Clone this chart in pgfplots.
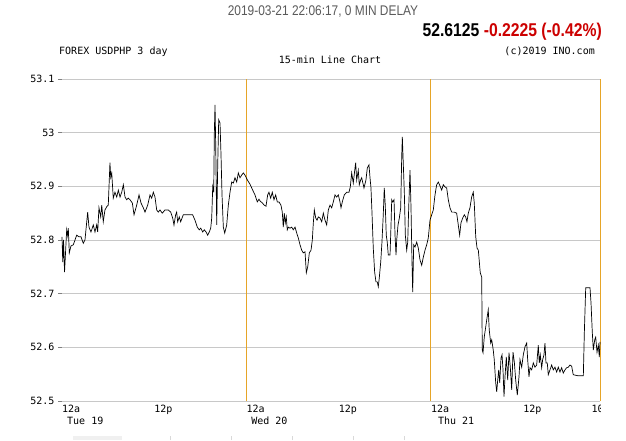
\documentclass[border=0pt]{standalone}
\usepackage{fontspec}
\usepackage{pgfplots}
\pgfplotsset{compat=1.18}
\newfontfamily\chartmono{DejaVu Sans Mono}
\newfontfamily\hdr[FakeStretch=0.85]{Liberation Sans}
\definecolor{gridgray}{RGB}{200,200,200}
\definecolor{daygold}{RGB}{230,165,40}
\definecolor{chgred}{RGB}{204,0,0}
\definecolor{hdrgray}{RGB}{90,90,90}
\newcommand{\mono}{\chartmono\fontsize{10}{10}\selectfont}
\begin{document}
\begin{tikzpicture}
\path[use as bounding box] (0pt,0pt) rectangle (626pt,440pt);
% header
\node[anchor=base, inner sep=0pt, text=hdrgray, font=\hdr\fontsize{14}{14}\selectfont] at (323pt,424pt) {2019-03-21 22:06:17, 0 MIN DELAY};
\node[anchor=base east, inner sep=0pt, font=\hdr\bfseries\fontsize{18.5}{18.5}\selectfont] at (602pt,403pt) {52.6125 \textcolor{chgred}{-0.2225 (-0.42\%)}};
\node[anchor=base west, inner sep=0pt, font=\mono] at (59pt,385.5pt) {FOREX USDPHP 3 day};
\node[anchor=base east, inner sep=0pt, font=\mono] at (595pt,385.5pt) {(c)2019 INO.com};
\node[anchor=base, inner sep=0pt, font=\mono] at (330pt,376pt) {15-min Line Chart};
\begin{axis}[
  at={(62pt,39pt)}, anchor=south west, scale only axis,
  width=538pt, height=322pt,
  xmin=0, xmax=70, ymin=52.5, ymax=53.1,
  axis line style={draw=none},
  ytick={52.5,52.6,52.7,52.8,52.9,53,53.1},
  yticklabels={52.5,52.6,52.7,52.8,52.9,53,53.1},
  ymajorgrids, grid style={gridgray, line width=0.8pt},
  ytick pos=left, tick align=outside, major tick length=4pt,
  y tick style={gray, line width=0.6pt},
  xtick={0,12,24,36,48,60}, xticklabels={12a,12p,12a,12p,12a,12p},
  x tick style={draw=none},
  xticklabel style={anchor=north west, inner sep=0pt, yshift=0pt},
  ticklabel style={font=\mono},
  clip=false,
]
\draw[daygold, line width=0.9pt] (axis cs:24,52.5) -- (axis cs:24,53.1);
\draw[daygold, line width=0.9pt] (axis cs:48,52.5) -- (axis cs:48,53.1);
\draw[daygold, line width=0.9pt] (axis cs:70,52.5) -- (axis cs:70,53.1);
\node[anchor=north west, inner sep=0pt, font=\mono, yshift=-16pt] at (axis cs:0.65,52.5) {Tue 19};
\node[anchor=north west, inner sep=0pt, font=\mono, yshift=-16pt] at (axis cs:24.6,52.5) {Wed 20};
\node[anchor=north west, inner sep=0pt, font=\mono, yshift=-16pt] at (axis cs:48.9,52.5) {Thu 21};
\addplot[black, line width=0.7pt, mark=none] coordinates {
(0,52.806) (0.10,52.759) (0.20,52.800) (0.33,52.740) (0.61,52.819) (0.74,52.808) (0.82,52.822) (0.95,52.776)
(1.17,52.789) (1.47,52.791) (1.69,52.800) (1.91,52.809) (2.21,52.806) (2.47,52.806) (2.77,52.794) (2.99,52.800)
(3.34,52.852) (3.51,52.824) (3.77,52.815) (4.07,52.828) (4.29,52.815) (4.51,52.828) (4.64,52.815) (4.81,52.860)
(5.04,52.843) (5.17,52.865) (5.37,52.834) (5.59,52.856) (5.82,52.862) (6.02,52.865) (6.24,52.944) (6.34,52.917)
(6.47,52.925) (6.67,52.878) (6.89,52.889) (7.12,52.880) (7.33,52.893) (7.55,52.880) (7.77,52.889) (7.98,52.903)
(8.20,52.880) (8.42,52.875) (8.63,52.878) (8.85,52.875) (9.15,52.869) (9.37,52.847) (9.72,52.865) (10.02,52.884)
(10.28,52.869) (10.58,52.860) (10.80,52.852) (11.15,52.865) (11.45,52.884) (11.67,52.878) (11.88,52.889) (12.10,52.880)
(12.32,52.856) (12.53,52.852) (12.75,52.856) (13.05,52.850) (13.40,52.856)
(13.83,52.856) (14.14,52.852) (14.40,52.841) (14.57,52.828) (14.79,52.847) (14.92,52.852) (15.05,52.834) (15.26,52.843)
(15.44,52.834) (15.78,52.847) (16.22,52.847) (16.65,52.847) (17.00,52.847) (17.30,52.837) (17.60,52.824) (17.86,52.819)
(18.05,52.822) (18.31,52.815) (18.51,52.819) (18.74,52.815) (18.96,52.809) (19.16,52.815) (19.35,52.822) (19.48,52.841)
(19.61,52.899) (19.74,52.889) (19.82,52.999) (19.91,53.052) (20.00,52.977) (20.13,52.828) (20.26,52.940) (20.39,53.024)
(20.56,53.018) (20.69,52.958) (20.82,52.884) (20.99,52.824) (21.17,52.813) (21.43,52.828) (21.64,52.865) (21.86,52.889)
(22.08,52.908) (22.29,52.906) (22.51,52.916) (22.73,52.908) (22.94,52.925) (23.16,52.916) (23.38,52.921) (23.59,52.925)
(23.81,52.921) (24.11,52.912) (24.46,52.904) (24.81,52.893) (25.11,52.884) (25.41,52.871) (25.63,52.876)
(25.76,52.873) (26.06,52.869) (26.32,52.865) (26.54,52.863) (26.76,52.884) (26.93,52.889) (27.15,52.878) (27.36,52.889)
(27.58,52.875) (27.80,52.884) (28.01,52.871) (28.23,52.871) (28.49,52.865) (28.66,52.852) (28.79,52.824) (28.92,52.850)
(29.05,52.832) (29.18,52.843) (29.31,52.819) (29.44,52.824) (29.66,52.822) (29.89,52.824) (30.09,52.819) (30.32,52.824)
(30.54,52.813) (30.74,52.804) (30.97,52.791) (31.19,52.781) (31.39,52.776) (31.62,52.778) (31.79,52.739) (31.97,52.750)
(32.18,52.776) (32.40,52.781) (32.57,52.800) (32.70,52.832) (32.83,52.856) (33.01,52.841) (33.18,52.837) (33.35,52.843)
(33.57,52.841) (33.79,52.834) (34.00,52.850) (34.22,52.837) (34.44,52.828) (34.65,52.856) (34.87,52.865) (35.09,52.860)
(35.30,52.871) (35.52,52.884) (35.74,52.880) (35.95,52.884) (36.17,52.871) (36.30,52.860) (36.47,52.871) (36.73,52.884)
(37.04,52.889) (37.34,52.889) (37.51,52.899) (37.69,52.925) (37.90,52.906) (38.12,52.934)
(38.21,52.944) (38.34,52.912) (38.55,52.930) (38.68,52.903) (38.86,52.912) (38.99,52.916) (39.20,52.903) (39.29,52.897)
(39.55,52.912) (39.72,52.934) (39.94,52.940) (40.07,52.917) (40.20,52.897) (40.33,52.852) (40.50,52.785) (40.68,52.740)
(40.85,52.722) (41.02,52.722) (41.15,52.713) (41.28,52.729) (41.47,52.759) (41.63,52.796) (41.80,52.847) (41.93,52.897)
(42.06,52.865) (42.19,52.809) (42.32,52.796) (42.45,52.772) (42.68,52.772) (42.81,52.828) (42.90,52.875) (43.03,52.871)
(43.20,52.875) (43.33,52.809) (43.46,52.772) (43.55,52.800) (43.72,52.828) (43.89,52.841) (44.07,52.860) (44.20,52.955)
(44.28,52.992) (44.41,52.940) (44.54,52.889) (44.67,52.809) (44.85,52.781) (44.98,52.796) (45.11,52.860) (45.28,52.930)
(45.41,52.860) (45.54,52.759) (45.63,52.703) (45.76,52.791) (45.93,52.787) (46.15,52.796) (46.36,52.785) (46.58,52.763)
(46.80,52.753) (47.01,52.768) (47.23,52.781) (47.45,52.791) (47.66,52.804) (47.88,52.837) (48.10,52.847) (48.31,52.856)
(48.53,52.884) (48.75,52.903) (48.96,52.908)
(49.18,52.901) (49.40,52.893) (49.61,52.903) (49.83,52.899) (50.05,52.897) (50.26,52.875) (50.48,52.860) (50.70,52.852)
(51.04,52.852) (51.35,52.850) (51.56,52.828) (51.74,52.809) (51.91,52.832) (52.14,52.841) (52.34,52.847) (52.52,52.843)
(52.69,52.834) (52.86,52.850) (53.08,52.860) (53.30,52.880) (53.51,52.889) (53.64,52.869) (53.83,52.806) (54.00,52.785)
(54.17,52.781) (54.30,52.759) (54.42,52.739) (54.61,52.731) (54.68,52.595) (54.78,52.590) (54.94,52.619) (55.13,52.638)
(55.30,52.655) (55.46,52.670) (55.59,52.632) (55.78,52.608) (55.91,52.614) (56.11,52.595) (56.24,52.577) (56.43,52.534)
(56.56,52.517) (56.69,52.539) (56.82,52.558) (56.95,52.534) (57.12,52.580) (57.25,52.586) (57.38,52.558) (57.51,52.508)
(57.64,52.545) (57.81,52.582) (57.99,52.539) (58.16,52.590) (58.33,52.563) (58.51,52.521) (58.68,52.591) (58.85,52.573)
(59.03,52.539) (59.24,52.511) (59.46,52.545) (59.59,52.577) (59.81,52.563) (60.02,52.586) (60.24,52.601) (60.46,52.608)
(60.59,52.577) (60.76,52.545) (60.89,52.562) (61.11,52.558) (61.32,52.571) (61.54,52.563) (61.76,52.567) (61.97,52.604)
(62.10,52.571) (62.23,52.586) (62.41,52.562) (62.54,52.577) (62.71,52.586) (62.84,52.608) (62.97,52.571) (63.14,52.571)
(63.27,52.549) (63.49,52.558) (63.71,52.567) (63.92,52.558) (64.14,52.563) (64.36,52.554) (64.57,52.563) (64.79,52.554)
(65.01,52.562) (65.22,52.552) (65.44,52.558) (65.66,52.562) (65.88,52.563) (66.09,52.567) (66.31,52.565) (66.52,52.549)
(67.14,52.547) (67.83,52.547) (67.96,52.627) (68.14,52.711) (68.70,52.711) (68.83,52.683) (69.00,52.627) (69.13,52.595)
(69.31,52.614) (69.44,52.619) (69.61,52.591) (69.78,52.604) (69.91,52.582) (70.00,52.610)
};
\end{axis}
% last, clipped tick label
\begin{scope}
\clip (560pt,0pt) rectangle (600.5pt,39pt);
\node[anchor=north west, inner sep=0pt, font=\mono] at (591.5pt,35pt) {10p};
\end{scope}
% faint tabs at the bottom edge
\fill[gray!12] (73pt,0pt) rectangle (122pt,4pt);
\foreach \xx in {170,231,292,353,404} {\draw[gray!30] (\xx pt,0pt) -- (\xx pt,4pt);}
\end{tikzpicture}
\end{document}
